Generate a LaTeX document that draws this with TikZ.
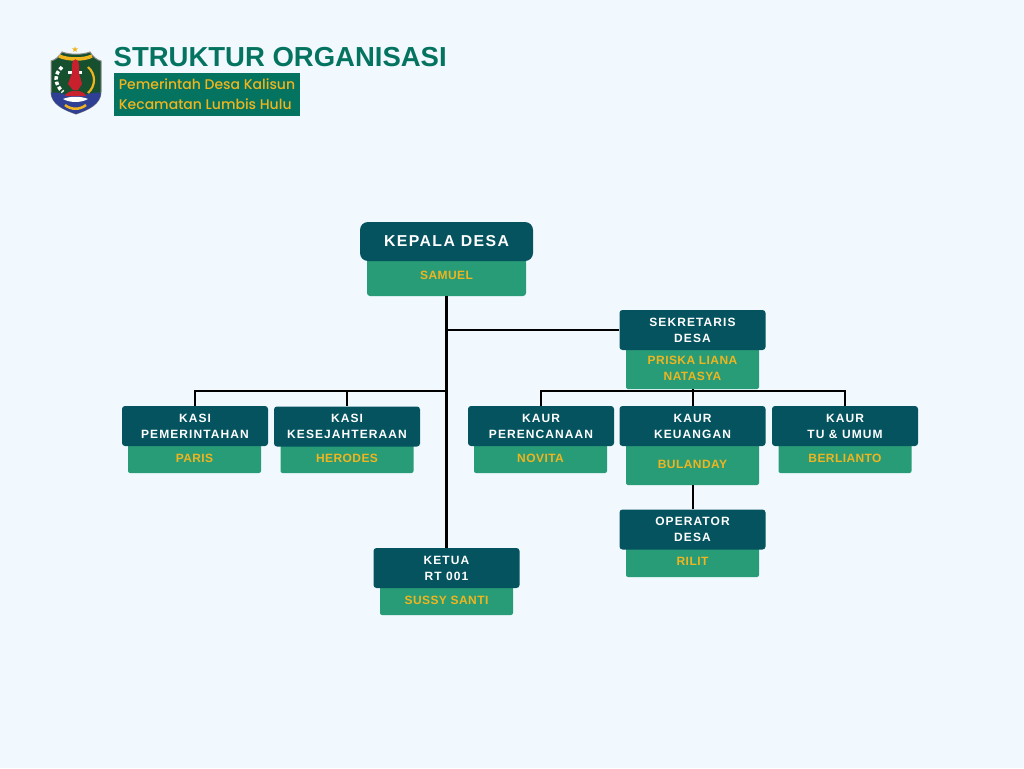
\documentclass[tikz,border=0pt]{standalone}
\usepackage{fontspec}
\setmainfont{Liberation Sans}
\newfontfamily\boxfont[LetterSpace=9]{Liberation Sans}
\newfontfamily\namefont[LetterSpace=3.5]{Liberation Sans}
\newfontfamily\headfont{Liberation Sans}
\newfontfamily\subfont{Poppins Medium}
\usetikzlibrary{positioning}
\definecolor{pagebg}{HTML}{F1F9FF}
\definecolor{darkteal}{HTML}{04535F}
\definecolor{midgreen}{HTML}{289C77}
\definecolor{headgreen}{HTML}{04735F}
\definecolor{gold}{HTML}{F0B51E}
\definecolor{shieldgreen}{HTML}{16502F}
\definecolor{shieldblue}{HTML}{2F3F94}
\definecolor{shieldred}{HTML}{C8202C}
\tikzset{
    posbox/.style={
        fill=darkteal,
        rounded corners=3pt,
        text=white,
        align=center,
        inner sep=0pt,
        minimum width=146pt,
        minimum height=40pt,
        font=\boxfont\bfseries\fontsize{12}{16}\selectfont
    },
    namebox/.style={
        fill=midgreen,
        rounded corners=2pt,
        text=gold,
        align=center,
        inner sep=0pt,
        minimum width=133pt,
        font=\namefont\bfseries\fontsize{12}{16}\selectfont
    },
    trunk/.style={draw=black, line width=3pt},
    branch/.style={draw=black, line width=2pt},
    elbow/.style={to path={-| (\tikztotarget)}}
}

\begin{document}
\begin{tikzpicture}[x=1pt, y=-1pt]
            \useasboundingbox [fill=pagebg] (0,0) rectangle (1024,768);

            % Logo
            \begin{scope}
                \path [clip, preaction={draw=black!45, line width=1pt, fill=shieldgreen}]
                    (51,61) .. controls (55,60) and (59,57) .. (62,52)
                    .. controls (70,55) and (82,55) .. (90,52)
                    .. controls (93,57) and (97,60) .. (101,61)
                    -- (101,92) .. controls (101,104) and (88,110) .. (76,114)
                    .. controls (64,110) and (51,104) .. (51,92) -- cycle;
                \fill [shieldblue] (50,93) .. controls (60,91) and (66,96) .. (76,96)
                    .. controls (86,96) and (92,91) .. (102,93) -- (102,115) -- (50,115) -- cycle;
                \draw [gold, line width=2.2pt] (88,67) .. controls (96,74) and (96,86) .. (88,93);
                \draw [white, line width=3.5pt, dotted] (62,67) .. controls (54,74) and (54,84) .. (63,92);
                \draw [gold, line width=3.5pt] (59,56) .. controls (68,60) and (84,60) .. (92,56);
                \fill [white] (68,71) -- (82,71) -- (82,74) -- (68,74) -- cycle;
                \fill [shieldred] (72,66) .. controls (72,57) and (79,57) .. (79,66)
                    -- (79,73) -- (82,84) -- (78,90) -- (73,90) -- (68,84) -- (72,73) -- cycle;
                \fill [shieldred] (65,96) .. controls (67,89) and (84,89) .. (86,96) -- cycle;
                \fill [white] (63,99) .. controls (70,96) and (81,96) .. (88,99)
                    .. controls (81,103) and (70,103) .. (63,99) -- cycle;
                \draw [gold, line width=2.5pt] (65,105) .. controls (71,110) and (80,110) .. (86,105);
            \end{scope}
            \fill [gold] (75,46.5) -- (75.8,48.5) -- (78,48.5) -- (76.2,49.8) -- (76.9,52)
                -- (75,50.7) -- (73.1,52) -- (73.8,49.8) -- (72,48.5) -- (74.2,48.5) -- cycle;

            % Heading
            \node (title) [
                anchor=west,
                inner sep=0pt,
                text=headgreen,
                font=\headfont\bfseries\fontsize{27.5}{32}\selectfont
            ] at (113.5,57) {STRUKTUR ORGANISASI};
            \node (subtitle) [
                fill=headgreen,
                text=gold,
                align=left,
                inner sep=0pt,
                minimum width=186pt,
                minimum height=43pt,
                font=\subfont\fontsize{14}{20}\selectfont
            ] at (207,94.5) {Pemerintah Desa Kalisun\\Kecamatan Lumbis Hulu};

            % Name boxes
            \node (samuel) [namebox, minimum width=159pt, minimum height=42pt, rounded corners=3pt] at (446.5,275) {SAMUEL};
            \node (priska) [namebox, minimum height=41pt] at (692.5,368.5) {PRISKA LIANA\\NATASYA};
            \node (paris) [namebox, minimum height=29pt] at (194.5,458.5) {PARIS};
            \node (herodes) [namebox, minimum height=29pt] at (347,458.5) {HERODES};
            \node (novita) [namebox, minimum height=29pt] at (540.5,458.5) {NOVITA};
            \node (bulanday) [namebox, minimum height=41pt] at (692.5,464.5) {BULANDAY};
            \node (berlianto) [namebox, minimum height=29pt] at (845,458.5) {BERLIANTO};
            \node (rilit) [namebox, minimum height=31pt] at (692.5,561.5) {RILIT};
            \node (sussy) [namebox, minimum height=29pt] at (446.5,600.5) {SUSSY SANTI};

            % Positions
            \node (kades) [
                posbox,
                minimum width=173pt,
                minimum height=39pt,
                rounded corners=8pt,
                font=\boxfont\bfseries\fontsize{15.8}{18}\selectfont
            ] at (446.5,241.5) {KEPALA DESA};
            \node (sekdes) [posbox] at (692.5,330) {SEKRETARIS\\DESA};
            \node (kasiPem) [posbox] at (195,426) {KASI\\PEMERINTAHAN};
            \node (kasiKes) [posbox] at (347,426.5) {KASI\\KESEJAHTERAAN};
            \node (kaurPer) [posbox] at (541,426) {KAUR\\PERENCANAAN};
            \node (kaurKeu) [posbox] at (692.5,426) {KAUR\\KEUANGAN};
            \node (kaurTu) [posbox] at (845,426) {KAUR\\TU \& UMUM};
            \node (operator) [posbox] at (692.5,529.5) {OPERATOR\\DESA};
            \node (ketua) [posbox] at (446.5,568) {KETUA\\RT 001};

            % Junctions
            \coordinate (leftJoint) at (446.5,391);
            \coordinate (sekJoint) at (446.5,330);
            \coordinate (rightJoint) at (692.5,391);

            % Edges
            \path [branch]
                % Out of the trunk
                (sekJoint) edge (sekdes)
                (leftJoint) edge [elbow] (kasiPem)
                (leftJoint) edge [elbow] (kasiKes)

                % Out of priska
                (priska) edge (kaurKeu)
                (rightJoint) edge [elbow] (kaurPer)
                (rightJoint) edge [elbow] (kaurTu)

                % Out of bulanday
                (bulanday) edge (operator)
            ;
            \path [trunk] (samuel) edge (ketua);
        \end{tikzpicture}
\end{document}
